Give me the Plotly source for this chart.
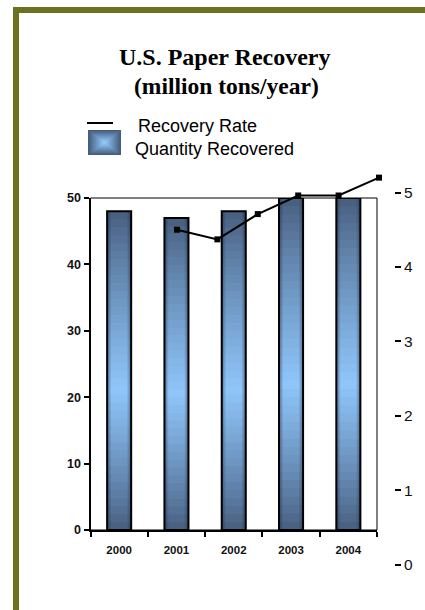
import plotly.graph_objects as go

# ---- data ----
years = ["2000", "2001", "2002", "2003", "2004"]
quantity = [48, 47, 48, 50, 50]            # million tons (left axis)
rate_points = [1, 2, 3, 4, 5, 6]           # sequence of rate points as drawn
rate_values = [4.5, 4.37, 4.71, 4.96, 4.96, 5.2]   # right axis
left_ticks = [0, 10, 20, 30, 40, 50]
right_ticks = [0, 1, 2, 3, 4, 5]

W, H = 425, 610
def px(x): return x / W
def py(y): return 1 - y / H

DARK = (70, 92, 124)
LIGHT = (143, 198, 250)
def mix(t):
    return "rgb(%d,%d,%d)" % tuple(round(d + (l - d) * t) for d, l in zip(DARK, LIGHT))

fig = go.Figure()
BW = 0.42
K = 40
C = 0.44
for i in range(K - 1, -1, -1):
    f = (i + 0.5) / K
    t = f / C if f < C else (1 - f) / (1 - C)
    t = max(0.0, min(1.0, t)) ** 0.85
    fig.add_trace(go.Bar(x=years, y=[v * (i + 1) / K for v in quantity], width=BW,
                         marker=dict(color=mix(t), line=dict(width=0)),
                         hoverinfo="skip", showlegend=False))
# horizontal edge shading
s = 0.022
for j, a in enumerate([0.5, 0.3, 0.14]):
    for off in (-BW / 2 + j * s, BW / 2 - (j + 1) * s):
        fig.add_trace(go.Bar(x=years, y=quantity, width=s, offset=off,
                             marker=dict(color="rgba(30,45,70,%.2f)" % a, line=dict(width=0)),
                             hoverinfo="skip", showlegend=False))
# outline
fig.add_trace(go.Bar(x=years, y=quantity, width=BW,
                     marker=dict(color="rgba(0,0,0,0)", line=dict(color="black", width=2)),
                     name="Quantity Recovered", showlegend=False))
# recovery rate line
fig.add_trace(go.Scatter(x=rate_points, y=rate_values, xaxis="x2", yaxis="y2",
                         mode="lines+markers", line=dict(color="black", width=2),
                         marker=dict(symbol="square", size=6, color="black"),
                         name="Recovery Rate", showlegend=False, cliponaxis=False))

sans = "Liberation Sans, Arial, sans-serif"
x2_lo, x2_hi = 85, 403.75
unit = 40.4
r0 = 1 - (177 - x2_lo) / unit
r1 = r0 + (x2_hi - x2_lo) / unit
y2_zero, y2_unit, y2_max = 564.5, 74.4, 5.4

fig.update_layout(
    width=W, height=H, margin=dict(l=0, r=0, t=0, b=0),
    paper_bgcolor="white", plot_bgcolor="rgba(0,0,0,0)",
    barmode="overlay", template="none", showlegend=False,
    xaxis=dict(domain=[px(90.5), px(377)], type="category", tickson="boundaries",
               showline=True, linecolor="black", linewidth=2, ticks="outside",
               ticklen=5, tickwidth=2, tickcolor="black", showgrid=False, zeroline=False,
               tickfont=dict(family=sans, size=11.5, color="#111", weight="bold"),
               ticklabelstandoff=8, anchor="y"),
    yaxis=dict(domain=[py(530), py(198)], range=[0, 50], tickvals=left_ticks,
               showline=True, linecolor="black", linewidth=2, ticks="outside",
               ticklen=5, tickwidth=2, tickcolor="black", showgrid=False, zeroline=False,
               tickfont=dict(family=sans, size=12.5, color="#111", weight=600), anchor="x"),
    xaxis2=dict(domain=[px(x2_lo), px(x2_hi)], range=[r0, r1], visible=False, anchor="y2"),
    yaxis2=dict(domain=[py(y2_zero), py(y2_zero - y2_max * y2_unit)], range=[0, y2_max],
                tickvals=right_ticks, anchor="free", position=px(394), side="right",
                showline=False, showgrid=False, zeroline=False, ticks="outside",
                ticklen=6, tickwidth=2, tickcolor="black",
                tickfont=dict(family=sans, size=15.5, color="#111")),
)

shapes = [
    dict(type="rect", xref="x domain", yref="y domain", x0=0, x1=1, y0=0, y1=1,
         line=dict(color="black", width=1)),
    dict(type="rect", xref="paper", yref="paper", x0=px(13), x1=1.02, y0=py(13), y1=py(7),
         fillcolor="#6c7021", line=dict(width=0)),
    dict(type="rect", xref="paper", yref="paper", x0=px(13), x1=px(19), y0=-0.02, y1=py(7),
         fillcolor="#6c7021", line=dict(width=0)),
    dict(type="line", xref="paper", yref="paper", x0=px(87), x1=px(113), y0=py(123), y1=py(123),
         line=dict(color="black", width=2)),
]
# legend gradient box
n = 12
for k in range(n):
    ins = k * 1.0
    shapes.append(dict(type="rect", xref="paper", yref="paper",
                       x0=px(88 + ins * 1.35), x1=px(121 - ins * 1.35),
                       y0=py(155 - ins), y1=py(130 + ins),
                       fillcolor=mix(k / (n - 1)), line=dict(width=0)))
fig.update_layout(shapes=shapes)

serif = "Liberation Serif, Times New Roman, serif"
ann = [
    dict(text="<b>U.S. Paper Recovery</b>", x=px(225), y=py(57), xref="paper", yref="paper",
         showarrow=False, xanchor="center", yanchor="middle",
         font=dict(family=serif, size=24, color="black")),
    dict(text="<b>(million tons/year)</b>", x=px(226), y=py(86), xref="paper", yref="paper",
         showarrow=False, xanchor="center", yanchor="middle",
         font=dict(family=serif, size=23.5, color="black")),
    dict(text="Recovery Rate", x=px(136), y=py(126), xref="paper", yref="paper",
         showarrow=False, xanchor="left", yanchor="middle",
         font=dict(family=sans, size=18, color="black")),
    dict(text="Quantity Recovered", x=px(133), y=py(149), xref="paper", yref="paper",
         showarrow=False, xanchor="left", yanchor="middle",
         font=dict(family=sans, size=18, color="black")),
]
fig.update_layout(annotations=ann)

fig.write_html("out.html")
